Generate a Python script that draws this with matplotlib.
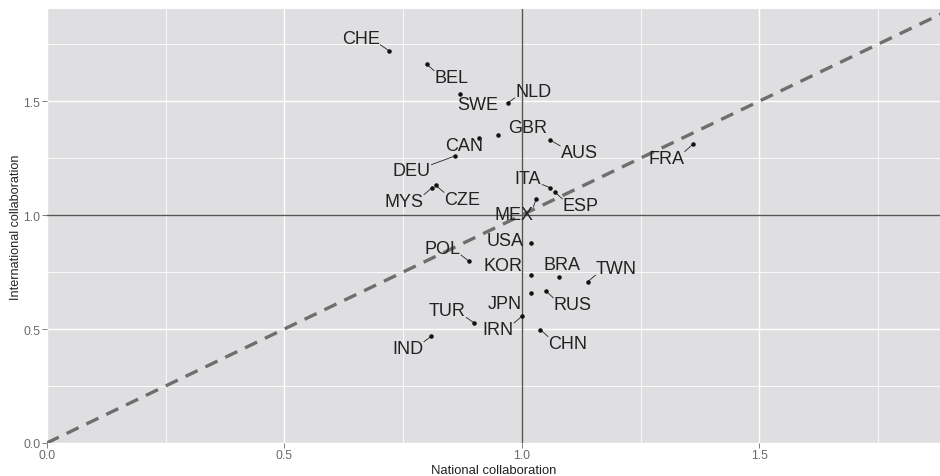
import matplotlib
matplotlib.use("Agg")
import matplotlib.pyplot as plt
import numpy as np

plt.rcParams['font.family'] = ['Liberation Sans', 'DejaVu Sans']

countries = ["CHE", "BEL", "SWE", "NLD", "GBR", "CAN", "AUS", "DEU", "ITA", "ESP",
             "MYS", "CZE", "MEX", "FRA", "USA", "POL", "KOR", "BRA", "TWN", "JPN",
             "RUS", "IRN", "TUR", "CHN", "IND"]
national = [0.720, 0.800, 0.869, 0.970, 0.950, 0.910, 1.059, 0.860, 1.060, 1.069,
            0.811, 0.819, 1.030, 1.360, 1.020, 0.889, 1.020, 1.079, 1.139, 1.020,
            1.050, 1.001, 0.900, 1.039, 0.809]
international = [1.721, 1.661, 1.531, 1.491, 1.350, 1.339, 1.330, 1.260, 1.120, 1.102,
                 1.120, 1.130, 1.070, 1.311, 0.877, 0.797, 0.738, 0.729, 0.708, 0.658,
                 0.668, 0.558, 0.526, 0.497, 0.468]
label_x = [0.661, 0.852, 0.907, 1.024, 1.013, 0.879, 1.121, 0.768, 1.013, 1.124,
           0.752, 0.875, 0.984, 1.304, 0.964, 0.833, 0.961, 1.085, 1.199, 0.964,
           1.107, 0.950, 0.843, 1.097, 0.760]
label_y = [1.776, 1.604, 1.487, 1.543, 1.385, 1.304, 1.275, 1.194, 1.161, 1.041,
           1.060, 1.070, 1.004, 1.249, 0.890, 0.854, 0.778, 0.784, 0.766, 0.614,
           0.607, 0.497, 0.580, 0.437, 0.415]
# labels shown without a leader line in the reference
no_segment = ["SWE", "GBR", "CAN", "USA", "KOR", "BRA", "JPN"]
ticks = [0.0, 0.5, 1.0, 1.5]
tick_labels = ["0.0", "0.5", "1.0", "1.5"]

fig = plt.figure(figsize=(9.4, 4.77), dpi=100)
ax = fig.add_axes([0.0497, 0.0692, 1 - 0.0497, 0.979 - 0.0692])
ax.set_facecolor("#dfdfe1")
ax.set_xlim(0, 1.880)
ax.set_ylim(0, 1.904)

ax.set_xticks(ticks)
ax.set_xticklabels(tick_labels)
ax.set_yticks(ticks)
ax.set_yticklabels(tick_labels)
ax.set_xticks([0.25, 0.75, 1.25, 1.75], minor=True)
ax.set_yticks([0.25, 0.75, 1.25, 1.75], minor=True)
ax.grid(True, which="major", color="white", linewidth=1.0)
ax.grid(True, which="minor", color="white", linewidth=0.6)
ax.set_axisbelow(True)
for s in ax.spines.values():
    s.set_visible(False)
ax.tick_params(axis="both", which="major", colors="#6a6a6a", labelsize=8.8,
               length=3.5, width=0.6, pad=1)
ax.tick_params(axis="both", which="minor", length=0)
ax.set_xlabel("National collaboration", fontsize=9.4, color="#222222", labelpad=2)
ax.set_ylabel("International collaboration", fontsize=9.1, color="#222222", labelpad=1)

ax.axvline(1.0, color="#555555", linewidth=1.0, zorder=2)
ax.axhline(1.0, color="#555555", linewidth=1.0, zorder=2)
ax.plot([0, 2], [0, 2], color="#6e6e6e", linewidth=2.4, linestyle=(0, (4, 2.6)), zorder=3)

ax.scatter(national, international, s=5, color="#111111", zorder=5)

texts = []
for c, lx, ly in zip(countries, label_x, label_y):
    t = ax.text(lx, ly, c, fontsize=13, color="#222222", ha="center", va="center", zorder=6)
    texts.append(t)

fig.canvas.draw()
renderer = fig.canvas.get_renderer()
inv = ax.transData.inverted()
for c, t, px, py in zip(countries, texts, national, international):
    if c in no_segment:
        continue
    bb = t.get_window_extent(renderer)
    x0, x1 = bb.x0 + 1, bb.x1 - 1
    y0, y1 = bb.y0 + 3, bb.y1 - 3
    dp = ax.transData.transform((px, py))
    cx = min(max(dp[0], x0), x1)
    cy = min(max(dp[1], y0), y1)
    d = np.hypot(dp[0] - cx, dp[1] - cy)
    if d > 3:
        f = (d - 2) / d
        ex = dp[0] + (cx - dp[0]) * f
        ey = dp[1] + (cy - dp[1]) * f
        p1 = inv.transform((ex, ey))
        ax.plot([px, p1[0]], [py, p1[1]], color="#222222", linewidth=0.6, zorder=4)

fig.savefig("out.png", dpi=100)
